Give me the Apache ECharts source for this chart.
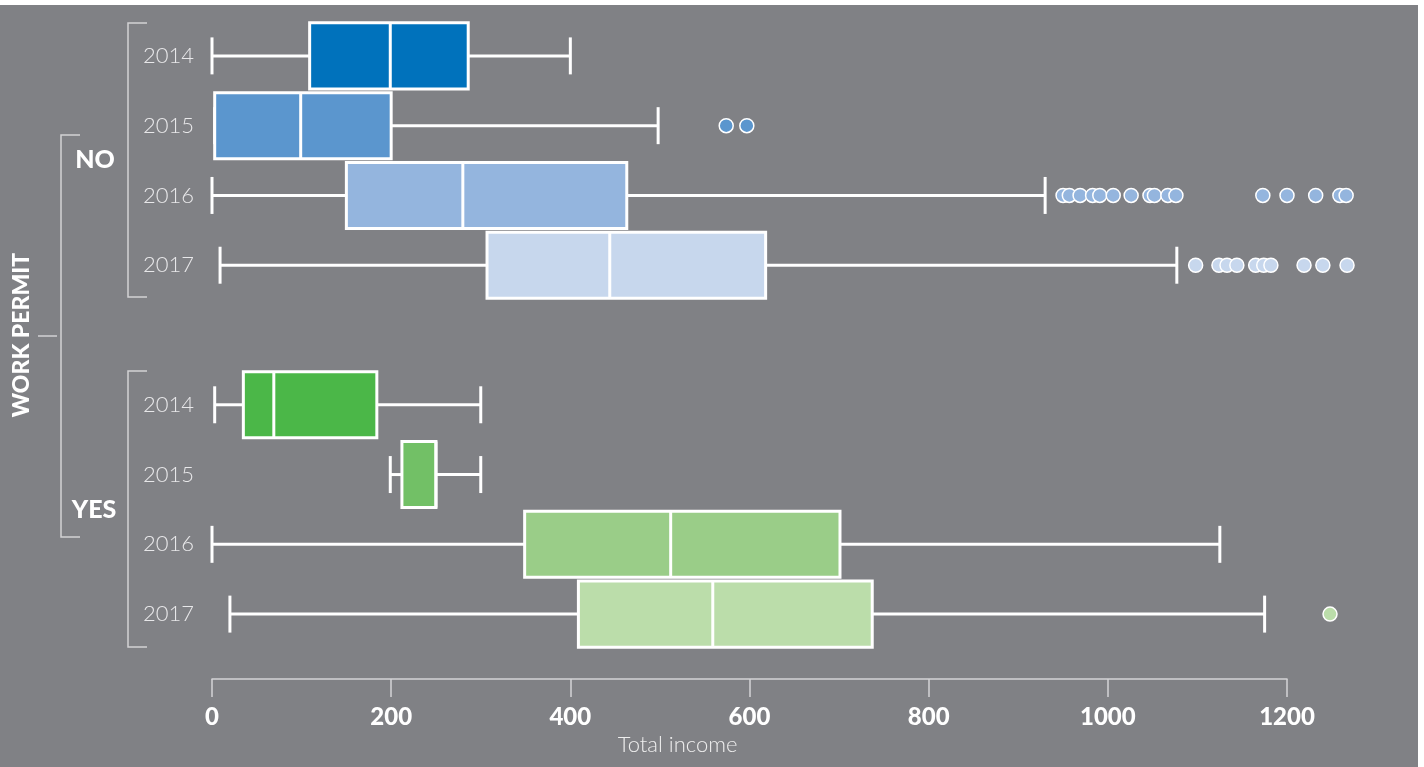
<!DOCTYPE html>
<html>
<head>
<meta charset="utf-8">
<script src="https://cdn.jsdelivr.net/npm/echarts@6/dist/echarts.min.js"></script>
<style>
html,body{margin:0;padding:0;background:#ffffff;}
#chart{width:1424px;height:767px;}
</style>
</head>
<body>
<div id="chart"></div>
<script>
// ---- data ----
var groups = ['NO', 'YES'];
var years = ['2014', '2015', '2016', '2017'];
var categories = ['2014', '2015', '2016', '2017', '', '2014', '2015', '2016', '2017'];
var xTicks = [0, 200, 400, 600, 800, 1000, 1200];
// [min, Q1, median, Q3, max]
var noStats = [
  [0, 109, 199, 286, 400],
  [3, 3, 99, 200, 498],
  [0, 150, 280, 463, 930],
  [9, 307, 444, 618, 1077]
];
var yesStats = [
  [3, 35, 69, 184, 300],
  [199, 212, 250, 250, 300],
  [0, 349, 512, 701, 1125],
  [20, 409, 559, 737, 1175]
];
var noOutliers = [
  [],
  [574, 597],
  [950, 957, 969, 983, 991, 1006, 1026, 1047, 1052, 1067, 1076, 1173, 1200, 1232, 1259, 1266],
  [1098, 1124, 1133, 1144, 1165, 1174, 1182, 1219, 1240, 1267]
];
var yesOutliers = [
  [],
  [],
  [],
  [1248]
];
// ---- styles ----
var noColors = ['#0072bc', '#5b96ce', '#94b5de', '#c7d7ed'];
var yesColors = ['#4bb748', '#72c066', '#9acd88', '#bbddaa'];
var BG = '#808185';

var boxData = [];
var pointData = [];
function addGroup(stats, outs, colors, offset) {
  for (var i = 0; i < stats.length; i++) {
    var c = offset + i;
    boxData.push({ value: [c].concat(stats[i]), color: colors[i] });
    for (var j = 0; j < outs[i].length; j++) {
      pointData.push({ value: [outs[i][j], c], itemStyle: { color: colors[i] } });
    }
  }
}
addGroup(noStats, noOutliers, noColors, 0);
addGroup(yesStats, yesOutliers, yesColors, 5);

function renderItem(params, api) {
  var cat = api.value(0);
  var lo = api.coord([api.value(1), cat]);
  var q1 = api.coord([api.value(2), cat]);
  var md = api.coord([api.value(3), cat]);
  var q3 = api.coord([api.value(4), cat]);
  var hi = api.coord([api.value(5), cat]);
  var band = api.size([0, 1])[1];
  var bh = band * 0.99;
  var ch = band * 0.53;
  var y = lo[1];
  var fill = boxData[params.dataIndex].color;
  var ls = { stroke: '#ffffff', lineWidth: 3 };
  var children = [];
  if (q1[0] - lo[0] > 1) {
    children.push({ type: 'line', shape: { x1: lo[0], y1: y, x2: q1[0], y2: y }, style: ls });
  }
  children.push({ type: 'line', shape: { x1: lo[0], y1: y - ch / 2, x2: lo[0], y2: y + ch / 2 }, style: ls });
  children.push({ type: 'line', shape: { x1: q3[0], y1: y, x2: hi[0], y2: y }, style: ls });
  children.push({ type: 'line', shape: { x1: hi[0], y1: y - ch / 2, x2: hi[0], y2: y + ch / 2 }, style: ls });
  children.push({ type: 'rect', shape: { x: q1[0], y: y - bh / 2 + 1.5, width: q3[0] - q1[0], height: bh - 3 },
    style: { fill: fill, stroke: '#ffffff', lineWidth: 3 } });
  children.push({ type: 'line', shape: { x1: md[0], y1: y - bh / 2 + 1.5, x2: md[0], y2: y + bh / 2 - 1.5 }, style: ls });
  return { type: 'group', children: children };
}

var chart = echarts.init(document.getElementById('chart'), null, { renderer: 'canvas' });
var labelFont = 'Lato, "Open Sans", sans-serif';
var bracketColor = '#d2d2d4';
var option = {
  backgroundColor: BG,
  animation: false,
  grid: [
    { left: 212, top: 21, height: 628, right: 47.4 },
    { left: 212, top: 21, height: 658, width: 1075 }
  ],
  xAxis: [
    { gridIndex: 0, type: 'value', min: 0, max: 1300, show: false },
    {
      gridIndex: 1, type: 'value', min: 0, max: 1200, interval: 200,
      axisLine: { show: true, lineStyle: { color: '#d4d4d6', width: 1.5 } },
      axisTick: { show: true, length: 18, lineStyle: { color: '#d4d4d6', width: 1.5 } },
      splitLine: { show: false },
      axisLabel: { margin: 26, color: '#ffffff', fontSize: 24, fontWeight: 900, fontFamily: labelFont,
        formatter: function (v) { return xTicks.indexOf(v) >= 0 ? String(v) : ''; } },
      name: 'Total income', nameLocation: 'middle', nameGap: 55,
      nameTextStyle: { color: '#eeeeee', fontSize: 22, fontWeight: 300, fontFamily: labelFont, padding: [0, 144, 0, 0] }
    }
  ],
  yAxis: [
    {
      gridIndex: 0, type: 'category', data: categories, inverse: true,
      axisLine: { show: false }, axisTick: { show: false }, splitLine: { show: false },
      axisLabel: { margin: 18, color: '#e8e8ea', fontSize: 22, fontWeight: 300, fontFamily: labelFont }
    },
    { gridIndex: 1, type: 'value', show: false }
  ],
  series: [
    {
      type: 'custom', xAxisIndex: 0, yAxisIndex: 0, renderItem: renderItem,
      encode: { x: [1, 2, 3, 4, 5], y: 0 },
      data: boxData, z: 2
    },
    {
      type: 'scatter', xAxisIndex: 0, yAxisIndex: 0, symbolSize: 14,
      itemStyle: { borderColor: '#ffffff', borderWidth: 1.5, opacity: 1 },
      data: pointData, z: 3
    }
  ],
  graphic: [
    { type: 'rect', shape: { x: 0, y: 0, width: 1424, height: 5 }, style: { fill: '#ffffff' }, z: 100 },
    { type: 'rect', shape: { x: 1418, y: 0, width: 6, height: 767 }, style: { fill: '#ffffff' }, z: 100 },
    // NO bracket
    { type: 'polyline', shape: { points: [[147, 23], [128, 23], [128, 297], [147, 297]] }, style: { stroke: bracketColor, lineWidth: 1.5, fill: null } },
    // YES bracket
    { type: 'polyline', shape: { points: [[147, 371], [128, 371], [128, 647], [147, 647]] }, style: { stroke: bracketColor, lineWidth: 1.5, fill: null } },
    // outer bracket
    { type: 'polyline', shape: { points: [[80, 135], [61, 135], [61, 537], [80, 537]] }, style: { stroke: bracketColor, lineWidth: 1.5, fill: null } },
    { type: 'line', shape: { x1: 38, y1: 336, x2: 57, y2: 336 }, style: { stroke: bracketColor, lineWidth: 1.5 } },
    { type: 'text', x: 95, y: 160, style: { text: groups[0], fill: '#ffffff', font: '900 25px ' + labelFont, textAlign: 'center', textVerticalAlign: 'middle' } },
    { type: 'text', x: 94, y: 510, style: { text: groups[1], fill: '#ffffff', font: '900 25px ' + labelFont, textAlign: 'center', textVerticalAlign: 'middle' } },
    { type: 'text', x: 22, y: 335, rotation: Math.PI / 2, style: { text: 'WORK PERMIT', fill: '#ffffff', font: '900 23px ' + labelFont, textAlign: 'center', textVerticalAlign: 'middle' } }
  ]
};
chart.setOption(option);
</script>
</body>
</html>
